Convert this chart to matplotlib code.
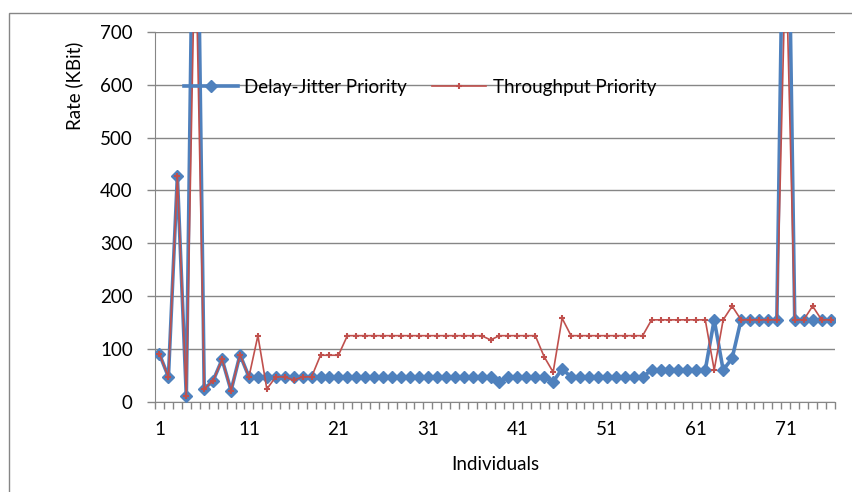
import matplotlib.pyplot as plt
from matplotlib.patches import Rectangle

# rate per individual, KBit
individuals = list(range(1, 77))
delay_jitter = [90, 47, 427, 10, 1300, 24, 40, 80, 21, 89,
                47, 47, 47, 47, 47, 47, 47, 47, 47, 47,
                47, 47, 47, 47, 47, 47, 47, 47, 47, 47,
                47, 47, 47, 47, 47, 47, 47, 47, 38, 47,
                47, 47, 47, 47, 38, 62, 47, 47, 47, 47,
                47, 47, 47, 47, 47, 60, 60, 60, 60, 60,
                60, 60, 155, 60, 82, 155, 155, 155, 155, 155,
                1300, 155, 155, 155, 155, 155]
throughput = [90, 47, 427, 10, 900, 24, 40, 80, 21, 89,
              47, 125, 24, 47, 47, 41, 47, 47, 88, 88,
              88, 125, 125, 125, 125, 125, 125, 125, 125, 125,
              125, 125, 125, 125, 125, 125, 125, 117, 125, 125,
              125, 125, 125, 85, 56, 158, 125, 125, 125, 125,
              125, 125, 125, 125, 125, 155, 155, 155, 155, 155,
              155, 155, 60, 155, 181, 155, 155, 155, 155, 155,
              850, 155, 155, 181, 155, 155]
x_labels = [1, 11, 21, 31, 41, 51, 61, 71]
y_ticks = [0, 100, 200, 300, 400, 500, 600, 700]

plt.rcParams['font.family'] = ['Lato', 'DejaVu Sans']
grey = '#868686'
fs = 13.5

fig = plt.figure(figsize=(8.52, 4.92), dpi=100)
ax = fig.add_axes([155 / 852, 1 - 401.7 / 492, 680 / 852, 369.7 / 492])

# outer chart border
fig.add_artist(Rectangle((9 / 852, -0.1), 2, 1.1 - 13 / 492, transform=fig.transFigure,
                         fill=False, edgecolor=grey, lw=1))

ax.plot(individuals, delay_jitter, color='#4F81BD', lw=2.6, marker='D', ms=6,
        label='Delay-Jitter Priority', zorder=3)
ax.plot(individuals, throughput, color='#C0504D', lw=1.2, marker='+', ms=5, mew=1.5,
        label='Throughput Priority', zorder=4)

ax.set_xlim(0.5, 76.5)
ax.set_ylim(0, 700)
ax.set_yticks(y_ticks)
ax.yaxis.grid(True, color=grey, lw=1)
ax.set_axisbelow(True)

ax.set_xticks(x_labels)
ax.set_xticklabels([str(v) for v in x_labels])
ax.set_xticks([v + 0.5 for v in range(0, 77)], minor=True)
ax.tick_params(axis='x', which='major', length=0, pad=14, labelsize=fs)
ax.tick_params(axis='x', which='minor', length=5, color=grey, width=1)
ax.tick_params(axis='y', length=6, color=grey, width=1, labelsize=fs, pad=10)

for side in ['top', 'right']:
    ax.spines[side].set_visible(False)
for side in ['left', 'bottom']:
    ax.spines[side].set_color(grey)

ax.set_xlabel('Individuals', fontsize=fs, labelpad=13)
ax.set_ylabel('Rate (KBit)', fontsize=fs)
ax.yaxis.set_label_coords(-0.105, 0.855)

ax.legend(loc='center left', bbox_to_anchor=(0.042, 0.85), ncol=2, frameon=False,
          fontsize=fs, borderpad=0, borderaxespad=0, handlelength=2.9,
          handletextpad=0.35, columnspacing=1.3)

fig.savefig('out.png', dpi=100)
